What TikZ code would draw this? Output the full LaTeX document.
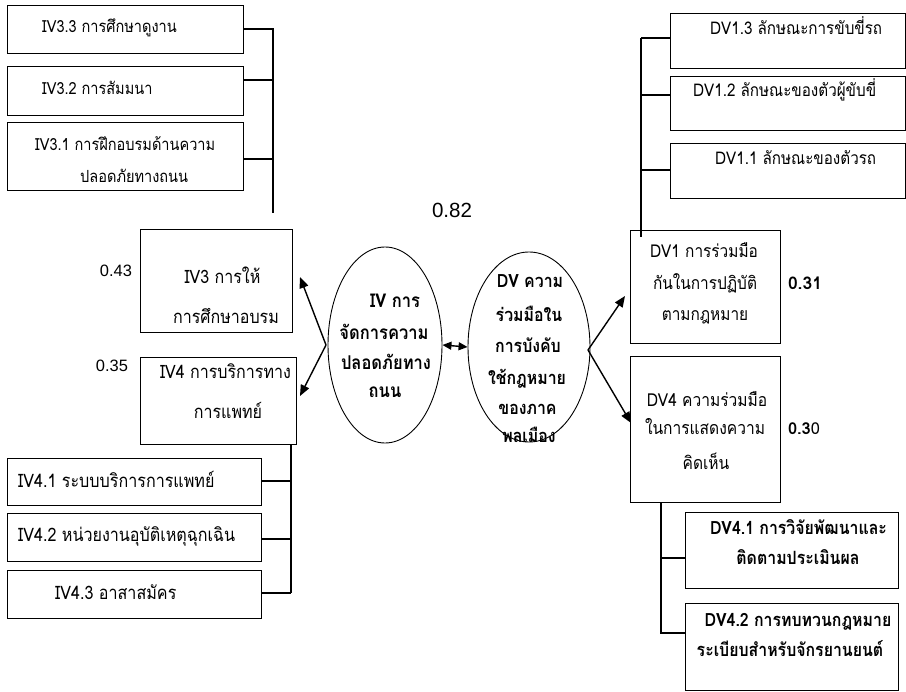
\documentclass[tikz,border=0pt]{standalone}
\usepackage{fontspec}
\usepackage{graphicx}
\setmainfont[Script=Thai]{Loma}
\newfontfamily\numfont{Liberation Sans}
\usetikzlibrary{arrows.meta,shapes.geometric}
\newcommand\fw[2]{\resizebox{#1pt}{!}{#2}}
\newcommand\fsz[1]{\fontsize{#1}{#1}\selectfont}
\newcommand\sx[2]{\scalebox{#1}[\fpeval{#1*1.15}]{#2}}
\newlength\tmpw
\newcommand\calib[3]{\settowidth\tmpw{\fsz{12}#3}\pgfmathsetmacro\calibtmp{#2/\tmpw}\global\let#1\calibtmp}
\begin{document}
\begin{tikzpicture}[x=1pt,y=-1pt,
  box/.style={draw,line width=0.9pt,minimum width=#1,inner sep=0pt},
  conn/.style={line width=1.4pt},
  arr/.style={line width=1.4pt,-{Triangle[length=11pt,width=9pt]}},
  dbl/.style={line width=1.4pt,{Triangle[length=9pt,width=8pt]}-{Triangle[length=9pt,width=8pt]}},
  oval/.style={draw,ellipse,line width=0.9pt,inner sep=0pt},
  tl/.style={inner sep=0pt,anchor=base},
  tw/.style={inner sep=0pt,anchor=base west,font=\fsz{12}},
  tc/.style={inner sep=0pt,anchor=base,font=\fsz{12}},
  tcb/.style={inner sep=0pt,anchor=base,font=\fsz{12}\bfseries}
]
\useasboundingbox (0,0) rectangle (906,692);
\node[inner sep=0pt] (calibration) at (0,0) {%
\calib{\scA}{180}{IV3.1 การฝึกอบรมด้านความ}%
\calib{\scB}{172}{DV1.3 ลักษณะการขับขี่รถ}%
\calib{\scC}{131}{IV4 การบริการทาง}%
\calib{\scD}{217}{IV4.2 หน่วยงานอุบัติเหตุฉุกเฉิน}%
\calib{\scE}{90}{\bfseries ปลอดภัยทาง}%
\calib{\scF}{78}{\bfseries ใช้กฎหมาย}%
\calib{\scG}{104}{กันในการปฏิบัติ}%
\calib{\scH}{120}{ในการแสดงความ}%
\calib{\scI}{177}{\bfseries DV4.1 การวิจัยพัฒนาและ}%
};
% ---- IV3 sub-boxes
\node[box=236pt,minimum height=48pt] (iv33) at (125,29) {};
\node[box=236pt,minimum height=49pt] (iv32) at (125,90.5) {};
\node[box=236pt,minimum height=68pt] (iv31) at (125,156) {};
\node[tw] (t33) at (42,33) {\sx{\scA}{IV3.3 การศึกษาดูงาน}};
\node[tw] (t32) at (42,95) {\sx{\scA}{IV3.2 การสัมมนา}};
\node[tw] (t31a) at (35,151) {\sx{\scA}{IV3.1 การฝึกอบรมด้านความ}};
\node[tw] (t31b) at (80,183) {\sx{\scA}{ปลอดภัยทางถนน}};
\coordinate (iv3bus) at (273,213);
\draw[conn] (iv33.east) -| (iv3bus);
\draw[conn] (iv32.east |- 0,80) -- (iv3bus |- 0,80);
\draw[conn] (iv31.east |- 0,159) -- (iv3bus |- 0,159);
% ---- DV1 sub-boxes
\node[box=235pt,minimum height=55pt] (dv13) at (787.5,40.5) {};
\node[box=235pt,minimum height=54pt] (dv12) at (787.5,103) {};
\node[box=235pt,minimum height=55pt] (dv11) at (787.5,170.5) {};
\node[tw] (t13) at (710,35) {\sx{\scB}{DV1.3 ลักษณะการขับขี่รถ}};
\node[tw] (t12) at (693,97) {\sx{\scB}{DV1.2 ลักษณะของตัวผู้ขับขี่}};
\node[tw] (t11) at (715,165) {\sx{\scB}{DV1.1 ลักษณะของตัวรถ}};
\coordinate (dvbusT) at (641,38);
\coordinate (dvbusB) at (641,237);
\draw[conn] (dvbusT) -- (dvbusB);
\draw[conn] (dvbusT) -- (dv13.west |- dvbusT);
\draw[conn] (dvbusT |- 0,95) -- (dv12.west |- 0,95);
\draw[conn] (dvbusT |- 0,170) -- (dv11.west |- 0,170);
% ---- IV3 / IV4 boxes
\node[box=152pt,minimum height=103pt] (iv3) at (216,280.5) {};
\node[tc] (t3a) at (222.5,284) {\sx{\scC}{IV3 การให้}};
\node[tc] (t3b) at (226,324) {\sx{\scC}{การศึกษาอบรม}};
\node[box=156pt,minimum height=87pt] (iv4) at (218,400.5) {};
\node[tc] (t4a) at (225.5,379) {\sx{\scC}{IV4 การบริการทาง}};
\node[tc] (t4b) at (228,419) {\sx{\scC}{การแพทย์}};
\node[tl,font=\numfont] (n43) at (116,277) {\fw{32}{0.43}};
\node[tl,font=\numfont] (n35) at (112,372) {\fw{32}{0.35}};
% ---- IV4 sub-boxes
\node[box=254pt,minimum height=47pt] (iv41) at (134,481.5) {};
\node[box=254pt,minimum height=48pt] (iv42) at (134,537) {};
\node[box=254pt,minimum height=48pt] (iv43) at (134,594) {};
\node[tw] (t41) at (18,488) {\sx{\scD}{IV4.1 ระบบบริการการแพทย์}};
\node[tw] (t42) at (18,542) {\sx{\scD}{IV4.2 หน่วยงานอุบัติเหตุฉุกเฉิน}};
\node[tw] (t43) at (55,600) {\sx{\scD}{IV4.3 อาสาสมัคร}};
\coordinate (iv4bus) at (291,593);
\draw[conn] (iv4bus |- iv4.south) -- (iv4bus);
\draw[conn] (iv41.east |- 0,481) -- (iv4bus |- 0,481);
\draw[conn] (iv42.east |- 0,539) -- (iv4bus |- 0,539);
\draw[conn] (iv43.east |- iv4bus) -- (iv4bus);
% ---- ellipses
\node[oval,minimum width=114pt,minimum height=196pt] (iv) at (385,345) {};
\node[tcb] (iva) at (395,308) {\sx{\scE}{IV การ}};
\node[tcb] (ivb) at (384,340) {\sx{\scE}{จัดการความ}};
\node[tcb] (ivc) at (386,370) {\sx{\scE}{ปลอดภัยทาง}};
\node[tcb] (ivd) at (385,398) {\sx{\scE}{ถนน}};
\node[oval,minimum width=122pt,minimum height=190pt] (dv) at (529,347) {};
\node[tcb] (dva) at (530,288) {\sx{\scF}{DV ความ}};
\node[tcb] (dvb) at (529,322) {\sx{\scF}{ร่วมมือใน}};
\node[tcb] (dvc) at (528,353) {\sx{\scF}{การบังคับ}};
\node[tcb] (dvd) at (527,385) {\sx{\scF}{ใช้กฎหมาย}};
\node[tcb] (dve) at (527.5,415) {\sx{\scF}{ของภาค}};
\node[tcb] (dvf) at (529,443) {\sx{\scF}{พลเมือง}};
\node[tl,font=\numfont] (n82) at (452,218) {\fw{40}{0.82}};
\draw[dbl] (iv.east) -- (dv.west);
% ---- arrows from IV
\coordinate (ivsrc) at (326,345);
\coordinate (iv3tip) at (300,277);
\coordinate (iv4tip) at (300,396);
\draw[arr] (ivsrc) -- (iv3tip);
\draw[arr] (ivsrc) -- (iv4tip);
% ---- DV1 / DV4 boxes
\node[box=150pt,minimum height=113pt] (dv1) at (705,286.5) {};
\node[tc] (t1a) at (704,258) {\sx{\scG}{DV1 การร่วมมือ}};
\node[tc] (t1b) at (705,290) {\sx{\scG}{กันในการปฏิบัติ}};
\node[tc] (t1c) at (705,321) {\sx{\scG}{ตามกฎหมาย}};
\node[box=150pt,minimum height=146pt] (dv4) at (705,429) {};
\node[tc] (t4da) at (707,407) {\sx{\scH}{DV4 ความร่วมมือ}};
\node[tc] (t4db) at (705,435) {\sx{\scH}{ในการแสดงความ}};
\node[tc] (t4dc) at (706,470) {\sx{\scH}{คิดเห็น}};
\node[tl,font=\bfseries] (n31) at (805,290) {\fw{34}{0.31}};
\node[tl] (n30) at (804,435) {\fw{32}{\textbf{0.3}0}};
\coordinate (dvsrc) at (588,350);
\coordinate (dv1tip) at (625,296);
\coordinate (dv4tip) at (631,423);
\draw[arr] (dvsrc) -- (dv1tip);
\draw[arr] (dvsrc) -- (dv4tip);
% ---- DV4 sub-boxes
\node[box=213pt,minimum height=76pt] (dv41) at (791.5,550) {};
\node[box=213pt,minimum height=87pt] (dv42) at (791.5,646.5) {};
\node[tcb] (t41da) at (798.5,535) {\sx{\scI}{DV4.1 การวิจัยพัฒนาและ}};
\node[tcb] (t41db) at (798,565) {\sx{\scI}{ติดตามประเมินผล}};
\node[tcb] (t42da) at (798,627) {\sx{\scI}{DV4.2 การทบทวนกฎหมาย}};
\node[tcb] (t42db) at (790,657) {\sx{\scI}{ระเบียบสำหรับจักรยานยนต์}};
\coordinate (dv4bus) at (661,633);
\draw[conn] (dv4bus |- dv4.south) -- (dv4bus) -- (dv42.west |- dv4bus);
\draw[conn] (dv4bus |- 0,558) -- (dv41.west |- 0,558);
\end{tikzpicture}
\end{document}
